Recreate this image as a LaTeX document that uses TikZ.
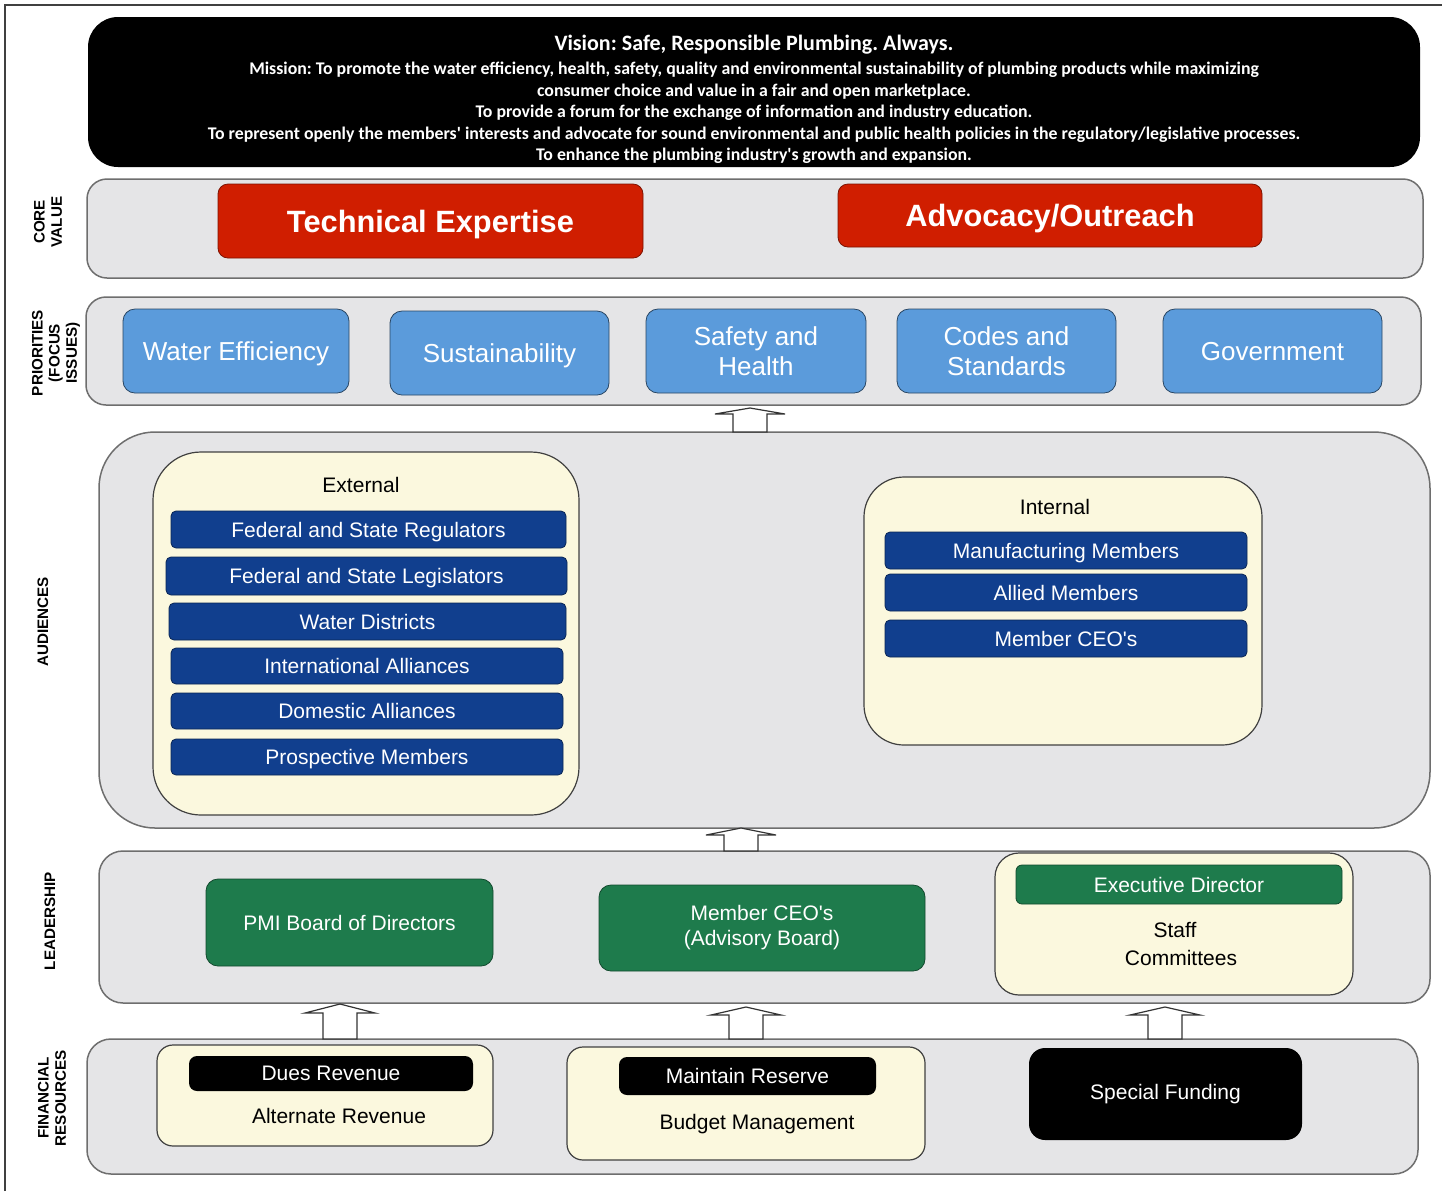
\documentclass[tikz,border=0pt]{standalone}
\usepackage{fontspec}
\setmainfont[Ligatures=TeXOff]{Liberation Sans}
\newfontfamily\visionfont[Ligatures=TeXOff]{Carlito}
\frenchspacing
\definecolor{bandgray}{HTML}{E5E5E7}
\definecolor{bandline}{HTML}{6E6E6E}
\definecolor{corered}{HTML}{D01E00}
\definecolor{prioblue}{HTML}{5B9BDB}
\definecolor{audblue}{HTML}{113F8E}
\definecolor{leadgreen}{HTML}{1E7B4C}
\definecolor{cream}{HTML}{FBF8DE}
\newcommand{\upblock}[3]{\draw[blockarr] (#1) ++(-17,0) -- ++(0,-#2) -- ++(-18,0) -- ++(35,-#3) -- ++(35,#3) -- ++(-18,0) -- ++(0,#2) -- cycle;}
\begin{document}
\begin{tikzpicture}[x=0.5pt,y=-0.5pt]
	\tikzstyle{every node}+=[inner sep=0pt, outer sep=0pt]
	\tikzstyle{band}=[draw=bandline, fill=bandgray, line width=0.75pt, rounded corners=10pt]
	\tikzstyle{cremebox}=[draw=black!75, fill=cream, line width=0.6pt, rounded corners=10pt]
	\tikzstyle{corebox}=[draw=corered!60!black, fill=corered, rounded corners=5pt, text=white, text depth=0pt, font=\bfseries\fontsize{15.4}{18}\selectfont]
	\tikzstyle{priobox}=[draw=prioblue!45!black, fill=prioblue, rounded corners=6pt, text=white, text depth=0pt, align=center, minimum width=109.5pt, minimum height=42pt, font=\fontsize{13}{15}\selectfont]
	\tikzstyle{audbar}=[draw=audblue!60!black, fill=audblue, rounded corners=2.5pt, text=white, text depth=0pt, font=\fontsize{10.5}{12}\selectfont]
	\tikzstyle{leadbox}=[draw=leadgreen!60!black, fill=leadgreen, rounded corners=6pt, text=white, align=center, font=\fontsize{10.5}{12.5}\selectfont]
	\tikzstyle{finbar}=[fill=black, rounded corners=4pt, text=white, font=\fontsize{10.5}{12}\selectfont]
	\tikzstyle{plain}=[font=\fontsize{10.5}{12}\selectfont]
	\tikzstyle{side}=[rotate=90, align=center, font=\bfseries\fontsize{7.6}{8.6}\selectfont]
	\tikzstyle{blockarr}=[draw=black!80, fill=white, line width=0.6pt]
	\path[use as bounding box, fill=white] (0,0) rectangle (1442,1191);
	\draw[black!75, line width=1pt] (5,1191) -- (5,5) -- (1442,5);
	\node[fill=black, rounded corners=15pt, minimum width=666pt, minimum height=75pt] (vision) at (754,92) {};
	\node[anchor=north, text=white, align=center, font=\visionfont\bfseries\fontsize{8.9}{10.75}\selectfont] (mission) at (754,35) {{\fontsize{11}{12}\selectfont Vision: Safe, Responsible Plumbing. Always.}\\[1.5pt]
		Mission: To promote the water efficiency, health, safety, quality and environmental sustainability of plumbing products while maximizing\\
		consumer choice and value in a fair and open marketplace.\\
		To provide a forum for the exchange of information and industry education.\\
		To represent openly the members' interests and advocate for sound environmental and public health policies in the regulatory/legislative processes.\\
		To enhance the plumbing industry's growth and expansion.};
	\node[band, minimum width=668pt, minimum height=49.5pt] (core) at (755,228.5) {};
	\node[corebox, minimum width=212.5pt, minimum height=37pt] (tech) at (430.5,221) {Technical Expertise};
	\node[corebox, minimum width=212pt, minimum height=31.5pt] (advo) at (1050,215.5) {Advocacy/Outreach};
	\node[band, minimum width=667.5pt, minimum height=54pt] (prio) at (753.5,351) {};
	\node[priobox, minimum width=113pt] (water) at (236,351) {Water Efficiency};
	\node[priobox] (sust) at (499.5,353) {Sustainability};
	\node[priobox, minimum width=110pt] (safety) at (756,351) {Safety and\\Health};
	\node[priobox] (codes) at (1006.5,351) {Codes and\\Standards};
	\node[priobox] (gov) at (1272.5,351) {Government};
	\node[band, rounded corners=28pt, minimum width=665.5pt, minimum height=198pt] (aud) at (764.5,630) {};
	\node[cremebox, rounded corners=24pt, minimum width=213pt, minimum height=181.5pt] (ext) at (366,633.5) {};
	\node[plain] (extlabel) at (361,485) {External};
	\node[audbar, minimum width=197.5pt, minimum height=18.5pt] (regulators) at (368.5,529.5) {Federal and State Regulators};
	\node[audbar, minimum width=200.5pt, minimum height=19pt] (legislators) at (366.5,576) {Federal and State Legislators};
	\node[audbar, minimum width=198.5pt, minimum height=18.5pt] (districts) at (367.5,621.5) {Water Districts};
	\node[audbar, minimum width=196pt, minimum height=18pt] (intl) at (367,666) {International Alliances};
	\node[audbar, minimum width=196pt, minimum height=18pt] (domestic) at (367,711) {Domestic Alliances};
	\node[audbar, minimum width=196pt, minimum height=18pt] (prospective) at (367,757) {Prospective Members};
	\node[cremebox, rounded corners=20pt, minimum width=199pt, minimum height=134pt] (int) at (1063,611) {};
	\node[plain] (intlabel) at (1055,507) {Internal};
	\node[audbar, minimum width=181pt, minimum height=18.5pt] (manuf) at (1066,550.5) {Manufacturing Members};
	\node[audbar, minimum width=181pt, minimum height=18.5pt] (allied) at (1066,592.5) {Allied Members};
	\node[audbar, minimum width=181pt, minimum height=18.5pt] (ceos) at (1066,638.5) {Member CEO's};
	\node[band, rounded corners=12pt, minimum width=665.5pt, minimum height=76pt] (lead) at (764.5,927) {};
	\node[leadbox, minimum width=143.5pt, minimum height=43.5pt] (board) at (349.5,922.5) {PMI Board of Directors};
	\node[leadbox, minimum width=163pt, minimum height=43pt] (advisory) at (762,928) {Member CEO's\\(Advisory Board)};
	\node[cremebox, rounded corners=12pt, minimum width=179pt, minimum height=71pt] (staffbox) at (1174,924) {};
	\node[leadbox, rounded corners=3pt, minimum width=163pt, minimum height=19.5pt] (execdir) at (1179,884.5) {Executive Director};
	\node[plain] (staff) at (1175,930) {Staff};
	\node[plain] (committees) at (1181,958) {Committees};
	\node[band, rounded corners=12pt, minimum width=665.5pt, minimum height=67.5pt] (fin) at (752.5,1106.5) {};
	\node[cremebox, rounded corners=8pt, minimum width=168pt, minimum height=50.5pt] (duesbox) at (325,1095.5) {};
	\node[finbar, minimum width=142pt, minimum height=17.5pt] (dues) at (331,1073.5) {Dues Revenue};
	\node[plain] (altrev) at (339,1116) {Alternate Revenue};
	\node[cremebox, rounded corners=8pt, minimum width=179pt, minimum height=56.5pt] (reservebox) at (746,1103.5) {};
	\node[finbar, minimum width=128.5pt, minimum height=19pt] (reserve) at (747.5,1076) {Maintain Reserve};
	\node[plain] (budget) at (757,1124) {Budget Management};
	\node[finbar, rounded corners=8pt, minimum width=136.5pt, minimum height=46pt] (special) at (1165.5,1094) {Special Funding};
	\node[side] (sidecore) at (48,222) {CORE\\VALUE};
	\node[side] (sideprio) at (56,353) {PRIORITIES\\(FOCUS\\ISSUES)};
	\node[side] (sideaud) at (43,622) {AUDIENCES};
	\node[side] (sidelead) at (50,921) {LEADERSHIP};
	\node[side] (sidefin) at (52,1098) {FINANCIAL\\RESOURCES};
	\coordinate (up1) at (750,0);
	\coordinate (up2) at (741,0);
	\coordinate (up3) at (340,0);
	\coordinate (up4) at (746,0);
	\coordinate (up5) at (1165,0);
	\upblock{aud.north -| up1}{18}{6}
	\upblock{lead.north -| up2}{16}{7}
	\upblock{fin.north -| up3}{26}{9}
	\upblock{fin.north -| up4}{24}{8}
	\upblock{fin.north -| up5}{24}{8}
\end{tikzpicture}
\end{document}
